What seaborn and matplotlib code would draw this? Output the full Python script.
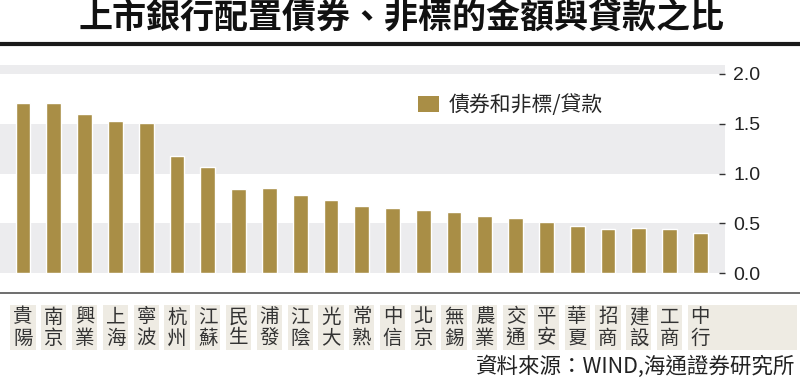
import matplotlib
matplotlib.use("Agg")
import matplotlib.pyplot as plt
import matplotlib.transforms as mtransforms
from matplotlib.patches import Rectangle, Patch
from matplotlib.lines import Line2D
import pandas as pd
import seaborn as sns

# data
banks = ["貴陽", "南京", "興業", "上海", "寧波", "杭州", "江蘇", "民生", "浦發", "江陰",
         "光大", "常熟", "中信", "北京", "無錫", "農業", "交通", "平安", "華夏", "招商",
         "建設", "工商", "中行"]
ratio = [1.71, 1.71, 1.60, 1.53, 1.51, 1.18, 1.07, 0.85, 0.86, 0.79,
         0.74, 0.68, 0.66, 0.64, 0.62, 0.57, 0.55, 0.51, 0.47, 0.44,
         0.45, 0.44, 0.40]
series_name = "債券和非標/貸款"
title = "上市銀行配置債券、非標的金額與貸款之比"
source = "資料來源：WIND,海通證券研究所"
y_ticks = [0.0, 0.5, 1.0, 1.5, 2.0]

bar_color = "#a98e46"
band_color = "#ececee"
box_color = "#eeebe3"

sns.set_style("white")
plt.rcParams['font.family'] = ['Noto Sans CJK TC', 'DejaVu Sans']

W, H = 800, 378
fig = plt.figure(figsize=(W / 100, H / 100), dpi=100)
ax = fig.add_axes([0, 1 - 273.3 / H, 725 / W, (273.3 - 65) / H])

df = pd.DataFrame({"bank": banks, "ratio": ratio})
sns.barplot(data=df, x="bank", y="ratio", color=bar_color, width=0.48,
            saturation=1, ax=ax, zorder=3)

# alternating grey bands
for lo in (0.0, 1.0, 2.0):
    ax.axhspan(lo, lo + 0.5, color=band_color, zorder=0, lw=0)

ax.set_xlim(-0.75, len(banks) - 1 + 0.8)
ax.set_ylim(0, 2.09)
ax.set_xlabel("")
ax.set_ylabel("")
for s in ax.spines.values():
    s.set_visible(False)

ax.yaxis.tick_right()
ax.set_yticks(y_ticks)
ax.set_yticklabels([f"{t:.1f}" for t in y_ticks], family="Liberation Sans")
ax.tick_params(axis="y", direction="in", length=4, width=1, color="#333",
               labelsize=14, labelcolor="#222", pad=6)
ax.tick_params(axis="x", bottom=False, labelbottom=False)

# legend
handle = Patch(facecolor=bar_color, edgecolor="none")
ax.legend([handle], [series_name], loc="center left",
          bbox_to_anchor=(418 / W, 1 - 105 / H), bbox_transform=fig.transFigure,
          frameon=False, fontsize=15, handlelength=1.0, handleheight=0.8,
          handletextpad=0.45, borderpad=0, borderaxespad=0)

# category labels in beige boxes below the chart
trans = mtransforms.blended_transform_factory(ax.transData, fig.transFigure)
box_w = 0.82
right_end = ax.transData.inverted().transform((0.996 * W, 0))[0]
for i, name in enumerate(banks):
    x0 = i - box_w / 2
    w = box_w if i < len(banks) - 1 else right_end - x0
    ax.add_patch(Rectangle((x0, 1 - 350 / H), w, 45 / H, transform=trans,
                           facecolor=box_color, edgecolor="none", clip_on=False))
    ax.text(i, 1 - 317 / H, name[0], transform=trans, ha="center", va="center",
            fontsize=14, color="#333")
    ax.text(i, 1 - 338 / H, name[1], transform=trans, ha="center", va="center",
            fontsize=14, color="#333")

# title and rules
fig.text(0.502, 1 - 18.5 / H, title, ha="center", va="center", fontsize=24.5,
         fontweight="bold", color="#111")
fig.add_artist(Line2D([0, 1], [1 - 44 / H] * 2, color="#1a1a1a", lw=3))
fig.add_artist(Line2D([0, 1], [1 - 292.5 / H] * 2, color="#555555", lw=1.2))

fig.text(795 / W, 1 - 367 / H, source, ha="right", va="center", fontsize=15.5,
         color="#222")

fig.savefig("out.png", dpi=100)
